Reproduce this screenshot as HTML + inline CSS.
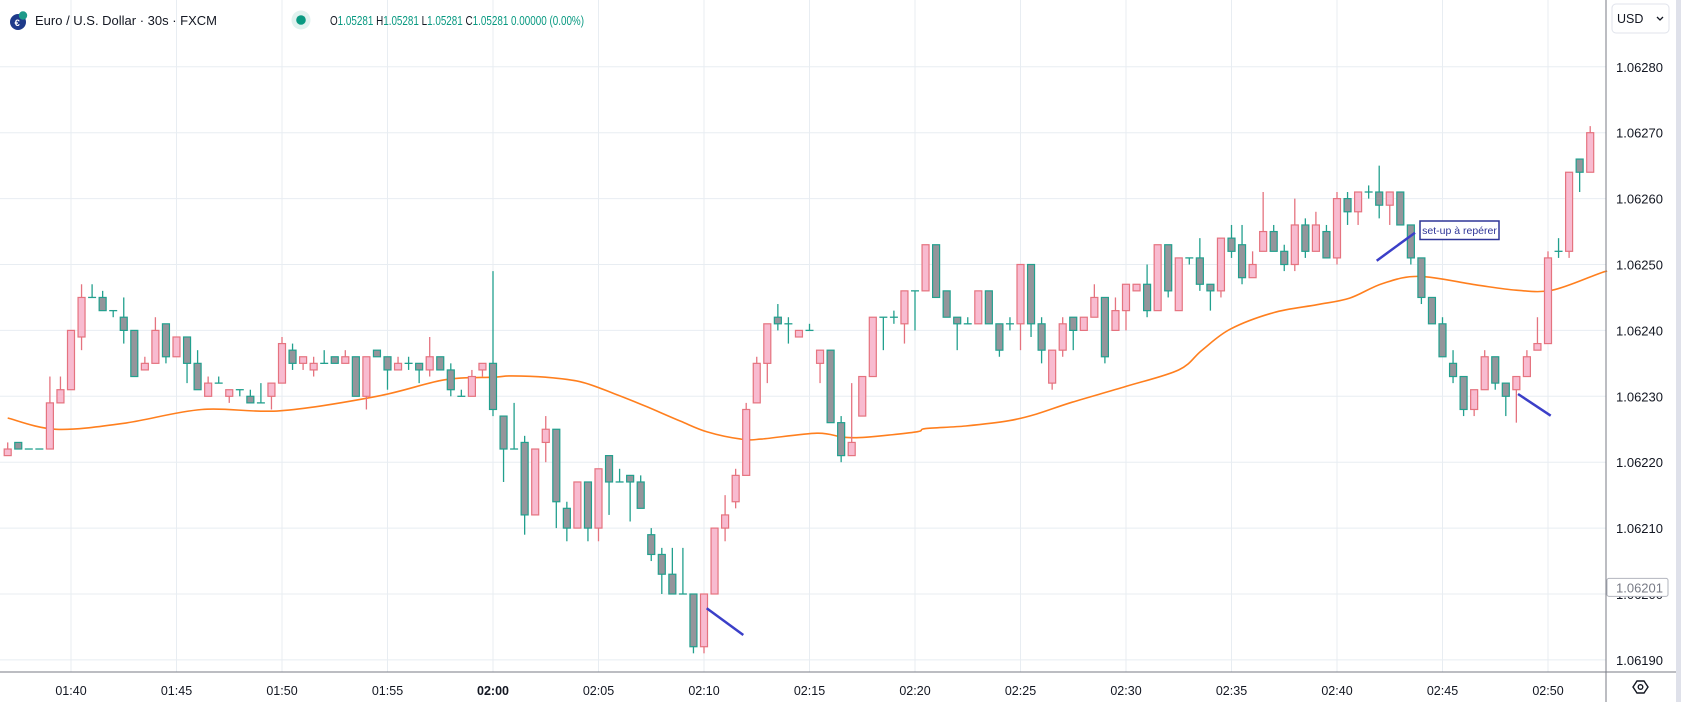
<!DOCTYPE html>
<html><head><meta charset="utf-8"><style>
html,body{margin:0;padding:0;background:#fff;width:1681px;height:702px;overflow:hidden}
svg{display:block;font-family:"Liberation Sans",sans-serif}
</style></head><body>
<svg id="chart" width="1681" height="702" viewBox="0 0 1681 702" xmlns="http://www.w3.org/2000/svg">
<g id="grid"></g>
<g id="ma"></g>
<g id="candles"></g>
<g id="annot"></g>
<g id="axes"></g>
<g id="header">
  <circle cx="18" cy="22" r="8" fill="#1e3a8a"/>
  <circle cx="23" cy="15.5" r="4.2" fill="#1e9a8a"/>
  <text x="14.5" y="26" font-size="9.5" fill="#fff" font-weight="bold">€</text>
  <text x="35" y="25" font-size="13" fill="#131722" textLength="182" lengthAdjust="spacingAndGlyphs">Euro / U.S. Dollar · 30s · FXCM</text>
  <circle cx="301" cy="20" r="9.5" fill="#e0f2ef"/>
  <circle cx="301" cy="20" r="4.8" fill="#089981"/>
  <text x="330" y="25" font-size="12.5" fill="#089981" textLength="254" lengthAdjust="spacingAndGlyphs"><tspan fill="#131722">O</tspan>1.05281 <tspan fill="#131722">H</tspan>1.05281 <tspan fill="#131722">L</tspan>1.05281 <tspan fill="#131722">C</tspan>1.05281 0.00000 (0.00%)</text>
</g>
</svg>
<script>
// price values stored as tenths of a pip above 1.06200 (v -> 1.06200 + v*0.00001)
const startIndex = -46; // first candle = 01:37:00 (index 0 = 02:00:00)
const opens  = [21,23,22,22,22,29,31,39,45,45, 43,42,40,34,35,41,36,39,35,30, 32,30,31,30,29,30,32,37,35,34, 35,36,35,36,30,37,36,34,35,35, 34,36,34,30,30,34,
 35,27,22,23,12,23,25,13,10,17, 10,21,17,18,17,9,6,3,0,0, -8,0,10,14,18,29,35,42,41,39, 40,35,37,26,21,27,33,42,42,41, 46,46,53,46,42,41,41,46,41,41, 41,50,41,32,37,42,40,42,45,40, 43,46,47,43,53,43,51,51,47,46, 54,53,48,52,55,52,50,56,52,55, 51,60,58,61,61,59,61,56,51,45, 41,35,33,28,31,36,32,31,33,37, 38,52,52,66,64];
const highs  = [23,23,22,22,33,33,40,47,47,46, 43,45,40,36,42,41,39,39,37,33, 33,31,31,31,32,32,39,38,36,36, 37,36,37,36,36,37,36,36,36,35, 39,36,35,31,34,35,
 49,27,29,24,22,27,25,14,17,17, 19,21,19,18,18,10,7,7,7,0, 0,10,15,19,29,36,41,44,42,40, 41,37,37,27,32,33,42,42,43,46, 46,53,53,46,42,42,46,46,41,42, 50,50,42,37,42,42,42,47,45,45, 47,47,50,53,53,51,51,54,47,54, 56,56,52,61,56,53,60,57,58,56, 61,61,61,62,65,61,61,56,51,45, 42,37,33,31,37,36,32,33,37,42, 52,54,64,66,71];
const lows   = [21,22,22,22,22,29,31,37,45,43, 42,38,33,34,35,35,36,32,31,30, 32,29,30,29,29,28,32,34,34,33, 35,35,35,30,28,36,31,34,34,32, 33,34,30,30,30,33,
 27,17,22,9,12,20,10,8,10,8, 8,12,17,11,13,5,0,0,0,-9, -9,0,8,13,18,29,32,40,38,39, 40,32,26,20,21,27,33,37,41,38, 40,46,45,42,37,41,41,41,36,40, 37,39,35,31,36,37,40,42,35,40, 40,46,42,43,45,43,50,46,43,45, 51,47,48,52,52,49,49,51,52,51, 50,56,56,60,57,56,56,50,44,41, 36,32,27,27,31,31,27,26,33,37, 38,51,51,61,64];
const closes = [22,22,22,22,29,31,40,45,45,43, 43,40,33,35,40,36,39,35,31,32, 32,31,31,29,29,32,38,35,36,35, 35,35,36,30,36,36,34,35,35,34, 36,34,31,30,33,35,
 28,22,22,12,22,25,14,10,17,10, 19,17,17,17,13,6,3,0,0,-8, 0,10,12,18,28,35,41,41,41,40, 40,37,26,21,23,33,42,42,42,46, 46,53,45,42,41,41,46,41,37,41, 50,41,37,37,41,40,42,45,36,43, 47,47,43,53,46,51,51,47,46,54, 52,48,50,55,52,50,56,52,56,51, 60,58,61,61,59,61,56,51,45,41, 36,33,28,31,36,32,30,33,36,38, 51,52,64,64,70];
// moving average samples: candle index, value
const maIdx = [-46,-41.4,-35,-27.6,-20.2,-11,-4.6,0,1.8,5,8.3,11.5,14.6,17.8,20.3,23.5,25.4,30.7,33.2,35.4,40.1,41,44.8,48.9,51.5,54.9,60,65,67.2,69.9,74,78.1,81.2,84.3,87.8,93.2,97,100.4,104.8,105.6];
const maVal = [26.7,25,25.9,28,27.8,30,32.5,32.9,33.1,32.9,32.2,30.4,28.4,26.2,24.6,23.5,23.5,24.4,23.8,23.8,24.6,25.1,25.5,26.3,27.3,29.1,31.5,34,37,40.2,42.7,43.9,44.9,47.1,48.2,46.9,46.1,46.1,48.6,49];
const priceTicks = [-10,0,10,20,30,40,50,60,70,80];
const timeTicks = ["01:40","01:45","01:50","01:55","02:00","02:05","02:10","02:15","02:20","02:25","02:30","02:35","02:40","02:45","02:50"];
const timeTickIdx = [-40,-30,-20,-10,0,10,20,30,40,50,60,70,80,90,100];
const lastPrice = 1;

const NS="http://www.w3.org/2000/svg";
const X0=493, DX=10.55, Y0=594, DY=6.59, PLOT_R=1606, PLOT_B=672;
const xs=k=>X0+k*DX;
const ys=v=>Y0-v*DY;
function mk(tag,attrs,parent){const e=document.createElementNS(NS,tag);for(const a in attrs)e.setAttribute(a,attrs[a]);parent.appendChild(e);return e;}
const grid=document.getElementById('grid'),cg=document.getElementById('candles'),ax=document.getElementById('axes'),mg=document.getElementById('ma'),an=document.getElementById('annot');

priceTicks.forEach(v=>{
  const l=mk('line',{x1:0,x2:PLOT_R,y1:ys(v),y2:ys(v),stroke:'#e8edf2','stroke-width':1},grid);
  
  
  const t=mk('text',{x:1616,y:ys(v)+5,'font-size':13,fill:'#131722'},ax);
  t.textContent=(1.062+v*0.00001).toFixed(5);
  
  
});
timeTicks.forEach((s,i)=>{
  const x=xs(timeTickIdx[i]);
  const l=mk('line',{x1:x,x2:x,y1:0,y2:PLOT_B,stroke:'#e8edf2','stroke-width':1},grid);
  
  
  const t=mk('text',{x:x,y:695,'font-size':12.5,fill:'#131722','text-anchor':'middle','font-weight':s==='02:00'?'bold':'normal'},ax);
  t.textContent=s;
  
  
});

// moving average (smoothed through samples)
const pts=maIdx.map((k,i)=>[xs(k),ys(maVal[i])]);
let d='M'+pts[0][0].toFixed(1)+' '+pts[0][1].toFixed(1);
for(let i=0;i<pts.length-1;i++){
  const p0=pts[Math.max(0,i-1)],p1=pts[i],p2=pts[i+1],p3=pts[Math.min(pts.length-1,i+2)];
  const c1=[p1[0]+(p2[0]-p0[0])/6,p1[1]+(p2[1]-p0[1])/6],c2=[p2[0]-(p3[0]-p1[0])/6,p2[1]-(p3[1]-p1[1])/6];
  d+=' C'+c1[0].toFixed(1)+' '+c1[1].toFixed(1)+' '+c2[0].toFixed(1)+' '+c2[1].toFixed(1)+' '+p2[0].toFixed(1)+' '+p2[1].toFixed(1);
}
const mp=mk('path',{d:d,fill:'none',stroke:'#ff7f1e','stroke-width':1.6,'stroke-linejoin':'round'},mg);



// candles
opens.forEach((o,i)=>{
  const c=closes[i],h=highs[i],lo=lows[i],x=xs(startIndex+i);
  const up=c>o, flat=c===o;
  const col=up?'#e5737f':'#22a08e';
  const g=mk('g',{},cg);
  
  
  mk('line',{x1:x,x2:x,y1:ys(h),y2:ys(lo),stroke:col,'stroke-width':1.3},g);
  if(flat){
    mk('line',{x1:x-4,x2:x+4,y1:ys(o),y2:ys(o),stroke:col,'stroke-width':1.3},g);
  } else {
    const top=ys(Math.max(o,c)),bot=ys(Math.min(o,c));
    mk('rect',{x:x-3.5,y:top,width:7,height:Math.max(1,bot-top),fill:up?'#f8bbd0':'#94959b',stroke:col,'stroke-width':1.2},g);
  }
});

// annotations
[[706.7,608.3,743.3,635],[1376.7,260.7,1415,232.7],[1518,394,1550.7,415.7]].forEach(a=>{
  const l=mk('line',{x1:a[0],y1:a[1],x2:a[2],y2:a[3],stroke:'#3b3fc8','stroke-width':2.5},an);
  
  
});
const box=mk('rect',{x:1420,y:221,width:79,height:18.5,fill:'#fff',stroke:'#2f3597','stroke-width':1.5},an);


const bt=mk('text',{x:1459.5,y:234,'font-size':10.5,fill:'#2f3597','text-anchor':'middle'},an);
bt.textContent='set-up à repérer';



// axes borders
const vline=mk('line',{x1:PLOT_R,x2:PLOT_R,y1:0,y2:702,stroke:'#787b86','stroke-width':1},ax);


const hline=mk('line',{x1:0,x2:1681,y1:PLOT_B,y2:PLOT_B,stroke:'#787b86','stroke-width':1},ax);


const rs=mk('rect',{x:1676,y:0,width:5,height:702,fill:'#dfe1ea'},ax);



// last price label
const lp=mk('rect',{x:1607,y:ys(lastPrice)-9,width:61,height:18,fill:'#fff',stroke:'#b2b5be','stroke-width':1,rx:2},ax);


const lpt=mk('text',{x:1616,y:ys(lastPrice)+5,'font-size':13,fill:'#787b86'},ax);
lpt.textContent=(1.062+lastPrice*0.00001).toFixed(5);



// currency button
const cb=mk('rect',{x:1612,y:4,width:57,height:29,rx:4,fill:'#fff',stroke:'#e0e3eb'},ax);


const ct=mk('text',{x:1617,y:23,'font-size':12.5,fill:'#131722'},ax);
ct.textContent='USD';


const cv=mk('path',{d:'M1657 17 l3 3 l3 -3',fill:'none',stroke:'#131722','stroke-width':1.3},ax);



// settings icon
const si=mk('path',{d:'M1633 687 l4 -6 h7 l4 6 l-4 6 h-7 z',fill:'none',stroke:'#131722','stroke-width':1.4},ax);


const sc=mk('circle',{cx:1640.5,cy:687,r:2.3,fill:'none',stroke:'#131722','stroke-width':1.4},ax);


</script>
</body></html>
